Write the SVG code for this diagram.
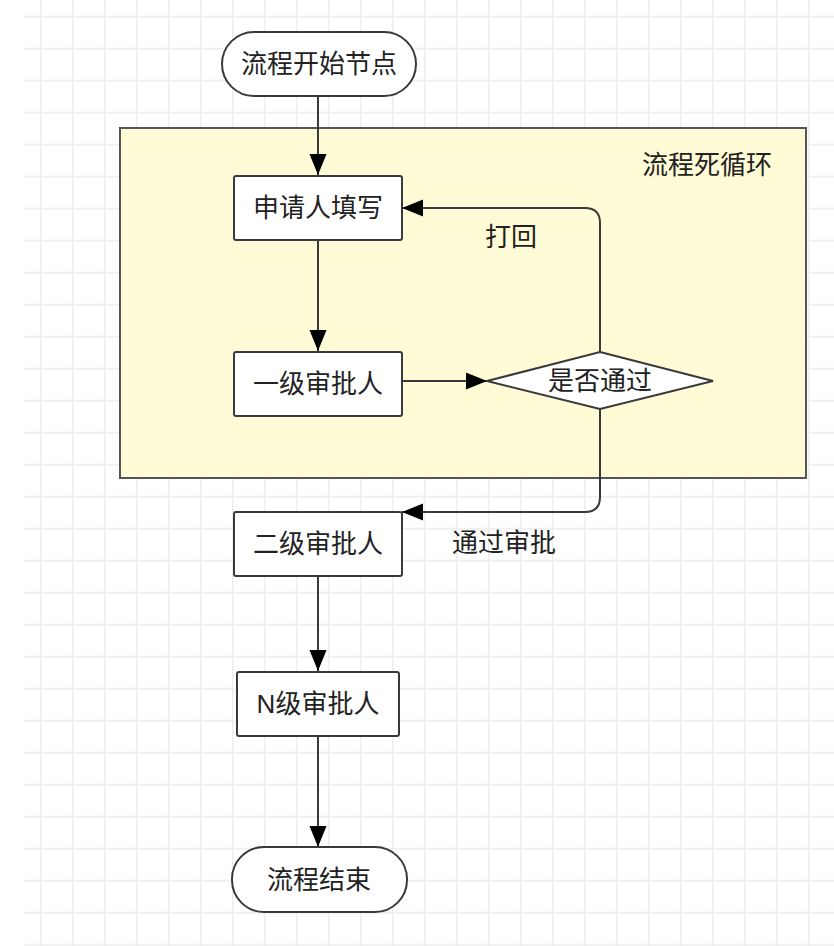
<svg xmlns="http://www.w3.org/2000/svg" width="834" height="946" viewBox="0 0 834 946">
<defs>
<style>
.grid{stroke:#ececec;stroke-width:1.5;fill:none}
.node{fill:#ffffff;stroke:#3a3a3a;stroke-width:2}
.lbl{font-family:"Liberation Sans","Noto Sans CJK SC",sans-serif;font-size:26px;fill:#222;text-anchor:middle;dominant-baseline:central}
.edge{fill:none;stroke:#3a3a3a;stroke-width:2}
</style>
<marker id="arr" markerUnits="userSpaceOnUse" markerWidth="22" markerHeight="18" refX="21" refY="8.5" orient="auto">
<path d="M0,0 L21,8.5 L0,17 Z" fill="#000"/>
</marker>
<pattern id="gp" x="24" y="0.7" width="32" height="32" patternUnits="userSpaceOnUse">
<path d="M16.7,0 V32 M0,16 H32" class="grid"/>
</pattern>
</defs>
<rect width="834" height="946" fill="#ffffff"/>
<rect x="24" y="0" width="810" height="946" fill="url(#gp)"/>
<g id="container">
<rect x="120" y="128" width="686" height="350" fill="#fffbd6" stroke="#555" stroke-width="2"/>
<text class="lbl" x="707" y="165">流程死循环</text>
</g>
<g id="connectors">
<path class="edge" d="M318,97 V175" marker-end="url(#arr)"/>
<path class="edge" d="M318,240 V351" marker-end="url(#arr)"/>
<path class="edge" d="M402,381 H487" marker-end="url(#arr)"/>
<path class="edge" d="M600,352 V223 Q600,208 585,208 H402" marker-end="url(#arr)"/>
<text class="lbl" x="511" y="237">打回</text>
<path class="edge" d="M600,409 V497 Q600,512 585,512 H402" marker-end="url(#arr)"/>
<text class="lbl" x="504" y="543">通过审批</text>
<path class="edge" d="M318,576 V671" marker-end="url(#arr)"/>
<path class="edge" d="M318,736 V847" marker-end="url(#arr)"/>
</g>
<g id="start">
<rect class="node" x="222" y="32" width="194" height="64" rx="32"/>
<text class="lbl" x="319" y="64">流程开始节点</text>
</g>
<g id="apply">
<rect class="node" x="234" y="176" width="168" height="64" rx="2"/>
<text class="lbl" x="318" y="208">申请人填写</text>
</g>
<g id="level1">
<rect class="node" x="234" y="352" width="168" height="64" rx="2"/>
<text class="lbl" x="318" y="384">一级审批人</text>
</g>
<g id="decision">
<polygon class="node" points="600,352 713,381 600,409 487,381"/>
<text class="lbl" x="600" y="381">是否通过</text>
</g>
<g id="level2">
<rect class="node" x="234" y="512" width="168" height="64" rx="2"/>
<text class="lbl" x="318" y="544">二级审批人</text>
</g>
<g id="levelN">
<rect class="node" x="237" y="672" width="162" height="64" rx="2"/>
<text class="lbl" x="318" y="704">N级审批人</text>
</g>
<g id="end">
<rect class="node" x="232" y="847" width="175" height="65" rx="32"/>
<text class="lbl" x="319" y="880">流程结束</text>
</g>
</svg>
